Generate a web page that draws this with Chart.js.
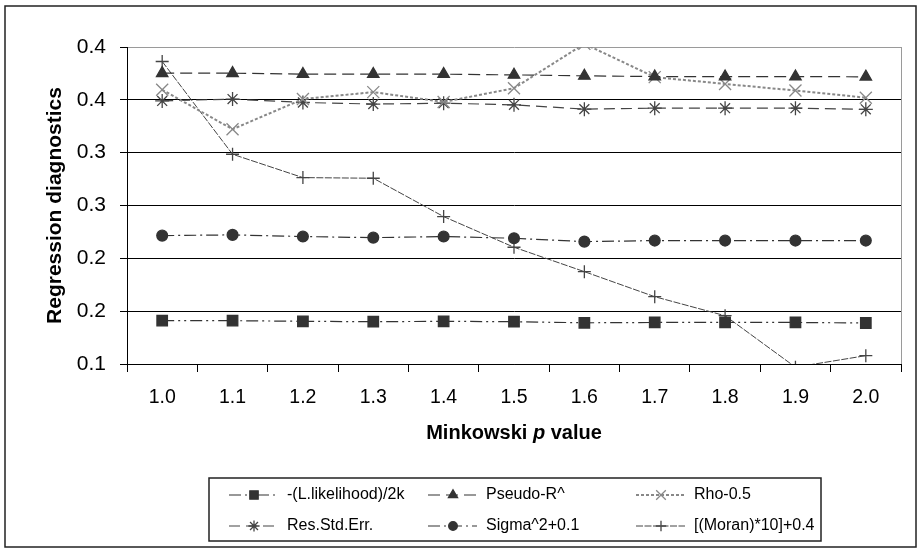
<!DOCTYPE html>
<html><head><meta charset="utf-8">
<script src="https://cdn.jsdelivr.net/npm/chart.js@4.4.0/dist/chart.umd.min.js"></script>
<style>html,body{margin:0;padding:0;background:#fff;} #wrap{width:921px;height:552px;position:relative;}</style>
</head><body><div id="wrap"><canvas id="c" width="921" height="552"></canvas></div>
<script>
const categories = ['1.0','1.1','1.2','1.3','1.4','1.5','1.6','1.7','1.8','1.9','2.0'];
const yTickLabels = ['0.1','0.2','0.2','0.3','0.3','0.4','0.4'];
const seriesNames = ['-(L.likelihood)/2k','Pseudo-R^','Rho-0.5','Res.Std.Err.','Sigma^2+0.1','[(Moran)*10]+0.4'];
const likelihood = [0.141,0.141,0.1404,0.1400,0.1404,0.1400,0.1390,0.1393,0.1393,0.1393,0.1388];
const pseudoR    = [0.3752,0.3752,0.3743,0.3743,0.3743,0.3736,0.3727,0.3720,0.3720,0.3720,0.3718];
const rho        = [0.3595,0.3222,0.3507,0.3573,0.3480,0.3610,0.4030,0.3715,0.3650,0.3588,0.3520];
const resStdErr  = [0.3490,0.3507,0.3475,0.3460,0.3468,0.3453,0.3412,0.3421,0.3421,0.3421,0.3410];
const sigma      = [0.2215,0.2222,0.2206,0.2196,0.2206,0.2190,0.2158,0.2168,0.2168,0.2168,0.2168];
const moran      = [0.3863,0.2985,0.2764,0.2758,0.2395,0.2105,0.1874,0.1637,0.1457,0.0970,0.1079];
const yAxisTitle = 'Regression diagnostics';
const xTitleParts = [['Minkowski ','bold'],['p','italic bold'],[' value','bold']];

const FAMILY = "'Liberation Sans', Arial, Helvetica, sans-serif";

const styles = [
  {color:'#333', dash:[12,4,2,4,2,4], width:1.2, point:'rect', radius:7.4},
  {color:'#333', dash:[12,6], width:1.2, point:'triangle', radius:6.6},
  {color:'#888', dash:[3,2], width:2, point:'crossRot', radius:8.5},
  {color:'#444', dash:[11,6], width:1.2, point:'star', radius:7},
  {color:'#333', dash:[12,4,2,4], width:1.2, point:'circle', radius:5.4},
  {color:'#444', dash:[7,1.5], width:1, point:'cross', radius:6.5}
];
const seriesData = [likelihood, pseudoR, rho, resStdErr, sigma, moran];

const datasets = seriesData.map((d,i)=>({
  label: seriesNames[i],
  data: d,
  borderColor: styles[i].color,
  backgroundColor: styles[i].color,
  borderWidth: styles[i].width,
  borderDash: styles[i].dash,
  pointStyle: styles[i].point,
  pointRadius: styles[i].radius,
  pointBorderWidth: 1.3,
  pointBorderColor: styles[i].color,
  pointBackgroundColor: styles[i].color,
  tension: 0,
  fill: false,
  clip: 0
}));

function drawMarker(ctx, style, x, y, r){
  ctx.save();
  ctx.setLineDash([]);
  ctx.fillStyle = style.color; ctx.strokeStyle = style.color; ctx.lineWidth = 1.3;
  if (Chart.helpers && Chart.helpers.drawPoint) {
    Chart.helpers.drawPoint(ctx, {pointStyle: style.point, radius: r, rotation: 0, borderWidth: 1.3}, x, y);
  } else {
    ctx.beginPath(); ctx.arc(x,y,r,0,Math.PI*2); ctx.fill();
  }
  ctx.restore();
}

const framePlugin = {
  id: 'frame',
  beforeDraw(chart){
    const ctx = chart.ctx;
    ctx.save(); ctx.fillStyle = '#fff'; ctx.fillRect(0,0,chart.width,chart.height); ctx.restore();
  },
  afterDraw(chart){
    const ctx = chart.ctx; const a = chart.chartArea;
    ctx.save();
    ctx.strokeStyle = '#9a9a9a'; ctx.lineWidth = 1; ctx.setLineDash([]);
    ctx.beginPath(); ctx.moveTo(a.right+0.5, a.top); ctx.lineTo(a.right+0.5, a.bottom); ctx.stroke();
    ctx.strokeStyle = '#222'; ctx.lineWidth = 1.5;
    ctx.strokeRect(5, 6, 911, 541);
    ctx.fillStyle = '#000'; ctx.textBaseline = 'middle';
    let total = 0;
    xTitleParts.forEach(p=>{ ctx.font = p[1]+' 20px '+FAMILY; total += ctx.measureText(p[0]).width; });
    let x = (a.left + a.right)/2 - total/2;
    xTitleParts.forEach(p=>{ ctx.font = p[1]+' 20px '+FAMILY; ctx.fillText(p[0], x, 433); x += ctx.measureText(p[0]).width; });
    ctx.strokeStyle = '#222'; ctx.lineWidth = 1.5;
    ctx.strokeRect(209, 478, 612, 63);
    const cols = [229, 428, 636], rows = [495, 526];
    seriesNames.forEach((name,i)=>{
      const cx = cols[i%3], cy = rows[Math.floor(i/3)];
      const st = styles[i];
      ctx.save();
      ctx.strokeStyle = st.color; ctx.lineWidth = st.width; ctx.setLineDash(st.dash);
      ctx.beginPath(); ctx.moveTo(cx, cy); ctx.lineTo(cx+49, cy); ctx.stroke();
      ctx.restore();
      drawMarker(ctx, st, cx+25, cy, st.radius*0.8);
      ctx.fillStyle = '#000'; ctx.font = '16px '+FAMILY; ctx.textBaseline='middle'; ctx.textAlign='left';
      ctx.fillText(name, cx+58, cy);
    });
    ctx.restore();
  }
};

new Chart(document.getElementById('c'), {
  type: 'line',
  data: { labels: categories, datasets },
  plugins: [framePlugin],
  options: {
    responsive: false, animation: false, devicePixelRatio: 1,
    layout: { padding: { left: 0, right: 20, top: 47, bottom: 0 } },
    plugins: { legend: { display: false }, tooltip: { enabled: false } },
    scales: {
      x: {
        type: 'category', offset: true,
        grid: { display: true, drawOnChartArea: false, drawTicks: true, tickLength: 8, color: '#000', offset: true },
        border: { display: true, color: '#000', width: 1 },
        ticks: { color: '#000', font: { family: FAMILY, size: 19.5 }, padding: 14, maxRotation: 0, autoSkip: false },
        afterFit(s){ s.height = 188; }
      },
      y: {
        min: 0.1, max: 0.4,
        ticks: { stepSize: 0.05, callback: (v,i)=>yTickLabels[i], color: '#000', font: { family: FAMILY, size: 21 }, padding: 14 },
        grid: {
          color: c => (c.tick && c.tick.value > 0.399) ? '#9a9a9a' : '#000',
          tickColor: '#000', tickLength: 7, lineWidth: 1
        },
        border: { display: true, color: '#000', width: 1 },
        title: { display: true, text: yAxisTitle, color: '#000', font: { family: FAMILY, size: 21, weight: 'bold' }, padding: { top: 43, bottom: 0 } },
        afterFit(s){ s.width = 127; }
      }
    }
  }
});
</script></body></html>
